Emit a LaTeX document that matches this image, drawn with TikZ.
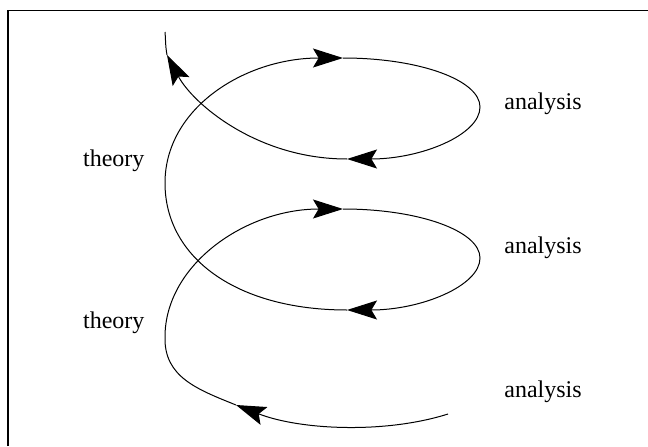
\documentclass[tikz,border=0pt]{standalone}
\usepackage{fontspec}
\setmainfont{Liberation Serif}
\usetikzlibrary{arrows.meta,positioning}

\begin{document}
\begin{tikzpicture}[
    x=0.5pt, y=0.5pt,
    word/.style={anchor=base west, inner sep=0pt, font=\fontsize{12}{14}\selectfont},
    arrow/.style={-{Stealth[length=15pt, width=9.5pt, inset=2.8pt]}, line width=0.5pt},
    frame/.style={line width=0.6pt},
]
    \useasboundingbox (0,0) rectangle (648,446);

    % Frame
    \draw[frame] (8,0) -- (8,435.5) -- (648,435.5);

    % Labels
    \node[word] (anaA) at (504,336.7) {analysis};
    \node[word] (anaB) at (504,192.5) {analysis};
    \node[word] (anaC) at (504,48.3) {analysis};
    \node[word] (theoA) at (82.7,280) {theory};
    \node[word] (theoB) at (82.7,117.7) {theory};

    % Spiral points
    \coordinate (start) at (448,32);
    \coordinate (arrA) at (236,41);
    \coordinate (leftA) at (165,109);
    \coordinate (topA) at (343,237);
    \coordinate (rightA) at (480,188);
    \coordinate (botA) at (347,136);
    \coordinate (leftB) at (165,263);
    \coordinate (topB) at (343,388);
    \coordinate (rightB) at (480,339);
    \coordinate (botB) at (347,287);
    \coordinate (arrB) at (167,391);
    \coordinate (stop) at (165,414);

    % Spiral
    \draw[arrow] (start) .. controls (385,12) and (300,16) .. (arrA);
    \draw[arrow] (arrA) .. controls +(158:42) and +(-1,-40) .. (leftA)
        .. controls +(0,72) and +(-98,0) .. (topA);
    \draw[arrow] (topA) .. controls +(76,0) and +(0,27) .. (rightA)
        .. controls +(0,-28) and +(74,0) .. (botA);
    \draw[arrow] (botA) .. controls +(-110,0) and +(0,-75) .. (leftB)
        .. controls +(0,75) and +(-98,0) .. (topB);
    \draw[arrow] (topB) .. controls +(76,0) and +(0,27) .. (rightB)
        .. controls +(0,-28) and +(74,0) .. (botB);
    \draw[arrow] (botB) .. controls +(-90,0) and +(-62:55) .. (arrB);
    \draw[line width=0.5pt] (arrB) .. controls +(100:10) and +(-85:8) .. (stop);
\end{tikzpicture}
\end{document}
